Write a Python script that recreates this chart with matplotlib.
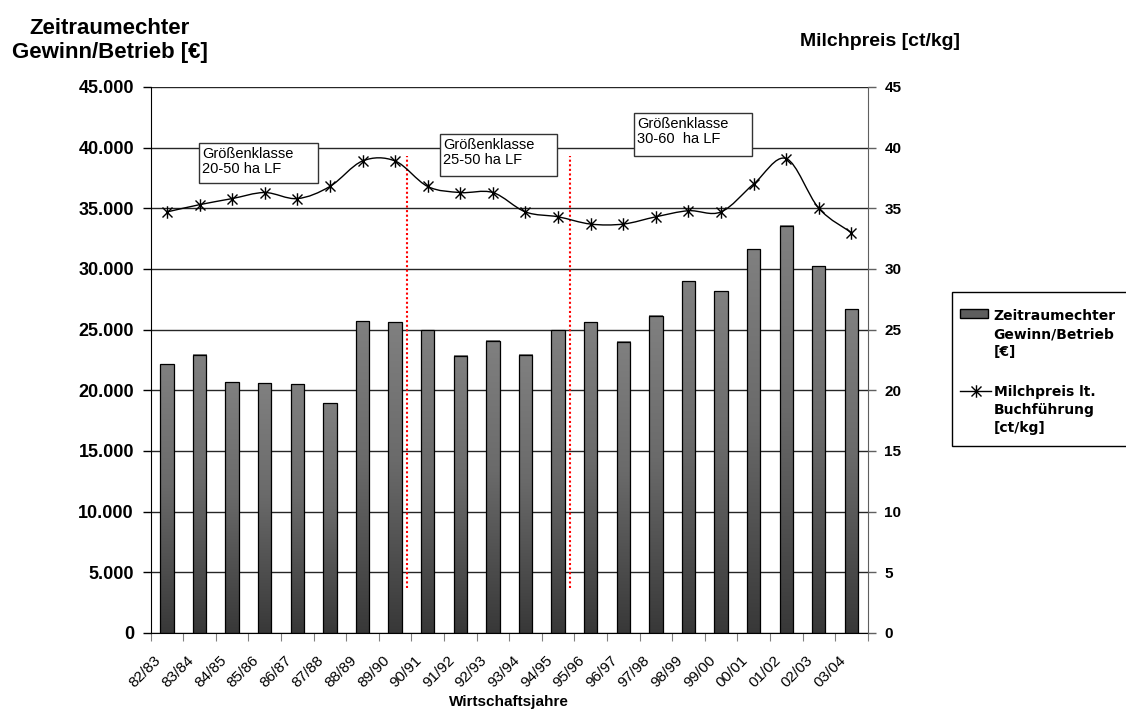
import numpy as np
import matplotlib
matplotlib.use("Agg")
import matplotlib.pyplot as plt
from matplotlib.colors import LinearSegmentedColormap
from matplotlib.path import Path
from matplotlib.patches import PathPatch, Rectangle
from matplotlib.lines import Line2D
from matplotlib.ticker import FuncFormatter
from matplotlib.transforms import ScaledTranslation

plt.rcParams['font.family'] = ['Liberation Sans', 'DejaVu Sans']

# Wirtschaftsjahre und Werte
jahre = ['82/83', '83/84', '84/85', '85/86', '86/87', '87/88', '88/89', '89/90',
         '90/91', '91/92', '92/93', '93/94', '94/95', '95/96', '96/97', '97/98',
         '98/99', '99/00', '00/01', '01/02', '02/03', '03/04']
gewinn = [22170, 22940, 20660, 20600, 20500, 18930, 25690, 25630, 24970, 22860, 24070,
          22940, 24950, 25630, 24000, 26150, 28990, 28160, 31620, 33570, 30220, 26680]
milchpreis = [34.7, 35.3, 35.8, 36.3, 35.8, 36.8, 38.9, 38.9, 36.8, 36.3, 36.3,
              34.7, 34.3, 33.7, 33.7, 34.3, 34.8, 34.7, 37.0, 39.1, 35.0, 33.0]

# Größenklassen-Wechsel zwischen den Jahren
klassen_grenzen = [7.35, 12.37]
klassen_texte = ['Größenklasse\n20-50 ha LF', 'Größenklasse\n25-50 ha LF', 'Größenklasse\n30-60  ha LF']

legende_gewinn = ['Zeitraumechter', 'Gewinn/Betrieb', '[€]']
legende_preis = ['Milchpreis lt.', 'Buchführung', '[ct/kg]']

W, H = 1126, 710
fig = plt.figure(figsize=(W / 100, H / 100), dpi=100)
ax = fig.add_axes([0.1338, 0.1085, 0.6368, 0.7690])
ax2 = ax.twinx()


def fx(px):
    return px / W


def fy(py):
    return 1 - py / H


x = np.arange(len(jahre))
bar_w = 0.41

# Balken mit Farbverlauf (unten dunkel, oben heller)
grad_cmap = LinearSegmentedColormap.from_list(
    'balken', [(0.0, '#383838'), (0.55, '#6a6a6a'), (1.0, '#808080')])
grad = np.linspace(0, 1, 256).reshape(-1, 1)
for xi, h in zip(x, gewinn):
    ax.imshow(grad, extent=[xi - bar_w / 2, xi + bar_w / 2, 0, h], origin='lower',
              aspect='auto', cmap=grad_cmap, zorder=2, interpolation='bilinear')
ax.bar(x, gewinn, width=bar_w, facecolor='none', edgecolor='black', linewidth=0.9, zorder=3)

ax.set_xlim(-0.5, len(jahre) - 0.5)
ax.set_ylim(0, 45000)
ax.set_yticks(np.arange(0, 45001, 5000))
ax.yaxis.set_major_formatter(FuncFormatter(lambda v, p: f"{int(v):,}".replace(",", ".")))
ax.grid(axis='y', color='#262626', linewidth=1.0)
ax.set_axisbelow(True)

# Kategoriegrenzen als Striche, Beschriftung in der Mitte
ax.set_xticks(np.arange(-0.5, len(jahre), 1.0))
ax.set_xticklabels([])
ax.set_xticks(x, minor=True)
ax.set_xticklabels(jahre, minor=True, rotation=45, ha='right', va='center',
                   rotation_mode='anchor', fontsize=11)
ax.tick_params(axis='x', which='major', length=6, color='#808080', direction='out')
ax.tick_params(axis='x', which='minor', length=0, pad=18)
shift = ScaledTranslation(-8 / 100, 0, fig.dpi_scale_trans)
for lbl in ax.get_xticklabels(minor=True):
    lbl.set_transform(lbl.get_transform() + shift)
ax.tick_params(axis='y', length=6, width=1, labelsize=13, pad=6)
for lbl in ax.get_yticklabels():
    lbl.set_fontweight('bold')

for s in ['top', 'right']:
    ax.spines[s].set_visible(False)
ax.spines['left'].set_color('black')
ax.spines['bottom'].set_color('black')

# Milchpreis auf der rechten Achse, geglättete Linie
ax2.set_ylim(0, 45)
ax2.set_yticks(np.arange(0, 46, 5))
ax2.tick_params(axis='y', length=6, width=1, labelsize=11, pad=6, color='#606060')
for lbl in ax2.get_yticklabels():
    lbl.set_fontweight('bold')
for s in ['top', 'left', 'bottom']:
    ax2.spines[s].set_visible(False)
ax2.spines['right'].set_color('#606060')

pts = np.column_stack([x, milchpreis]).astype(float)
verts = [pts[0]]
codes = [Path.MOVETO]
n = len(pts)
for i in range(n - 1):
    p0 = pts[i - 1] if i > 0 else pts[i]
    p1, p2 = pts[i], pts[i + 1]
    p3 = pts[i + 2] if i + 2 < n else pts[i + 1]
    verts += [p1 + (p2 - p0) / 6, p2 - (p3 - p1) / 6, p2]
    codes += [Path.CURVE4] * 3
ax2.add_patch(PathPatch(Path(verts, codes), facecolor='none', edgecolor='black',
                        linewidth=1.0, zorder=4))

stern = Path([(0, -1), (0, 1), (-0.8, -0.8), (0.8, 0.8), (-0.8, 0.8), (0.8, -0.8)],
             [Path.MOVETO, Path.LINETO] * 3)
ax2.plot(x, milchpreis, linestyle='none', marker=stern, markersize=9,
         markeredgecolor='black', markeredgewidth=1.0, zorder=5)

# Trennlinien der Größenklassen
for gx in klassen_grenzen:
    ax2.plot([gx, gx], [3.7, 39.3], color='red', linestyle=(0, (1, 1.2)), linewidth=1.5, zorder=3)

# Textfelder
boxen = [(0.99, 37.07, 4.62, 40.36), (8.38, 37.69, 11.98, 41.10), (14.33, 39.31, 17.94, 42.83)]
for (x0, y0, x1, y1), txt in zip(boxen, klassen_texte):
    ax2.add_patch(Rectangle((x0, y0), x1 - x0, y1 - y0, facecolor='white',
                            edgecolor='#333333', linewidth=1.0, zorder=6))
    ax2.text(x0 + 0.09, y1 - 0.3, txt, ha='left', va='top', fontsize=10.5,
             linespacing=1.1, zorder=7)

# Achsentitel
fig.text(fx(110), fy(58), 'Zeitraumechter\nGewinn/Betrieb [€]', ha='center', va='baseline',
         multialignment='center', fontsize=16, fontweight='bold')
fig.text(fx(880), fy(46), 'Milchpreis [ct/kg]', ha='center', va='baseline',
         fontsize=14, fontweight='bold')
fig.text(fx(509), fy(706), 'Wirtschaftsjahre', ha='center', va='baseline',
         fontsize=11, fontweight='bold')

# Legende (Rahmen läuft über den rechten Bildrand hinaus)
fig.add_artist(Rectangle((fx(952.3), fy(445.7)), fx(1140) - fx(952.3), (445.7 - 292.3) / H,
                         transform=fig.transFigure, facecolor='white', edgecolor='black',
                         linewidth=1.0))
fig.add_artist(Rectangle((fx(960), fy(318.5)), fx(988) - fx(960), 9 / H,
                         transform=fig.transFigure, facecolor='#5e5e5e', edgecolor='black',
                         linewidth=1.0))
fig.add_artist(Line2D([fx(960), fx(991)], [fy(390.5)] * 2, transform=fig.transFigure,
                      color='black', linewidth=1.0))
fig.add_artist(Line2D([fx(975.5)], [fy(390.5)], transform=fig.transFigure, linestyle='none',
                      marker=stern, markersize=9, markeredgecolor='black', markeredgewidth=1.0))
leg_font = dict(family='DejaVu Sans', fontweight='bold', fontsize=10)
for zeile, txt in enumerate(legende_gewinn):
    fig.text(fx(993.5), fy(320 + 18 * zeile), txt, ha='left', va='baseline', **leg_font)
for zeile, txt in enumerate(legende_preis):
    fig.text(fx(993.5), fy(396 + 18 * zeile), txt, ha='left', va='baseline', **leg_font)

fig.savefig('out.png', dpi=100)
